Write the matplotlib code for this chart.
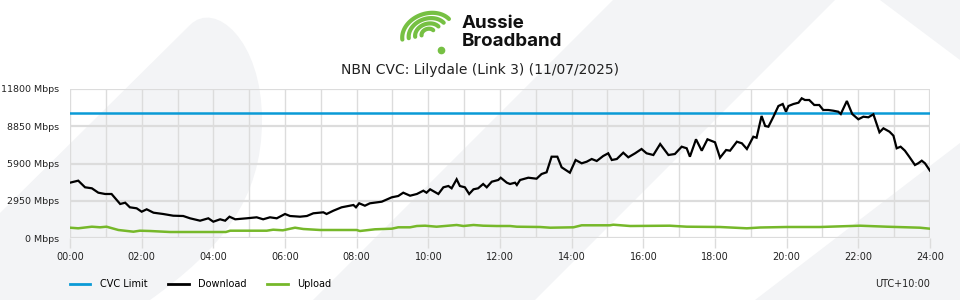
import numpy as np
import matplotlib
matplotlib.use("Agg")
import matplotlib.pyplot as plt
from matplotlib.path import Path
from matplotlib.patches import PathPatch, Polygon
from matplotlib.lines import Line2D

# ---------------- data ----------------
title = "NBN CVC: Lilydale (Link 3) (11/07/2025)"
cvc_limit = 9900
y_ticks = [0, 2950, 5900, 8850, 11800]
x_tick_labels = ["00:00", "02:00", "04:00", "06:00", "08:00", "10:00", "12:00",
                 "14:00", "16:00", "18:00", "20:00", "22:00", "24:00"]

download_t = [0.0, 0.23, 0.42, 0.61, 0.79, 0.98, 1.16, 1.40, 1.54, 1.67, 1.86, 2.0, 2.14, 2.33,
              2.60, 2.88, 3.16, 3.35, 3.63, 3.86, 4.0, 4.19, 4.33, 4.45, 4.61, 4.93, 5.21, 5.39,
              5.58, 5.77, 6.0, 6.14, 6.42, 6.61, 6.79, 7.07, 7.16, 7.35, 7.58, 7.91, 7.98, 8.07,
              8.23, 8.37, 8.70, 8.98, 9.16, 9.30, 9.49, 9.68, 9.86, 9.95, 10.05, 10.28, 10.42,
              10.56, 10.65, 10.79, 10.88, 11.02, 11.14, 11.26, 11.39, 11.53, 11.63, 11.77, 11.95,
              12.02, 12.19, 12.28, 12.42, 12.47, 12.56, 12.79, 13.02, 13.16, 13.30, 13.44, 13.60,
              13.72, 13.95, 14.11, 14.28, 14.42, 14.56, 14.70, 14.88, 15.02, 15.12, 15.26, 15.44,
              15.58, 15.77, 15.95, 16.09, 16.28, 16.47, 16.70, 16.88, 17.07, 17.21, 17.30, 17.47,
              17.63, 17.79, 18.0, 18.14, 18.31, 18.42, 18.61, 18.75, 18.89, 19.07, 19.16, 19.30,
              19.40, 19.49, 19.63, 19.77, 19.89, 19.98, 20.05, 20.19, 20.33, 20.42, 20.51, 20.63,
              20.77, 20.91, 21.02, 21.16, 21.30, 21.44, 21.51, 21.68, 21.83, 22.0, 22.14, 22.28,
              22.42, 22.59, 22.70, 22.87, 22.98, 23.07, 23.18, 23.30, 23.42, 23.58, 23.67, 23.77,
              23.86, 24.0]
download_mbps = [4380, 4540, 4015, 3936, 3588, 3485, 3485, 2693, 2796, 2431, 2352, 2083, 2273, 2004,
                 1901, 1766, 1742, 1560, 1370, 1560, 1291, 1481, 1370, 1687, 1481, 1560, 1639, 1481,
                 1639, 1560, 1901, 1742, 1687, 1742, 1956, 2035, 1901, 2162, 2431, 2613, 2431, 2748,
                 2558, 2748, 2875, 3223, 3326, 3588, 3350, 3485, 3746, 3588, 3857, 3485, 4015,
                 4118, 3936, 4649, 4118, 4015, 3485, 3857, 3936, 4277, 4015, 4459, 4593,
                 4775, 4380, 4277, 4380, 4197, 4593, 4775, 4696, 5068, 5203, 6439, 6439,
                 5599, 5171, 6177, 5916, 6043, 6256, 6098, 6494, 6708, 6177, 6256, 6755,
                 6391, 6708, 7048, 6708, 6573, 7444, 6573, 6652, 7231, 7104, 6439, 7817,
                 6914, 7817, 7579, 6359, 6969, 6914, 7626, 7500, 7048, 8022, 7943, 9662,
                 8870, 8814, 9606, 10454, 10612, 10002, 10454, 10612, 10715, 11064, 10929, 10929,
                 10533, 10533, 10137, 10137, 10082, 10002, 9820, 10850, 9820, 9400, 9606, 9559,
                 9796, 8371, 8688, 8418, 8102, 7104, 7231, 6914, 6439, 5781, 5916, 6122,
                 5916, 5330]

upload_t = [0.0, 0.23, 0.61, 0.84, 1.02, 1.35, 1.77, 1.95, 2.23, 2.79, 3.43, 4.0, 4.35, 4.47,
            5.49, 5.67, 5.94, 6.28, 6.51, 6.98, 8.0, 8.09, 8.51, 8.98, 9.16, 9.49, 9.68, 9.91,
            10.23, 10.79, 10.98, 11.26, 11.53, 11.91, 12.28, 12.47, 13.12, 13.40, 14.05, 14.28,
            15.07, 15.16, 15.63, 16.74, 17.21, 18.14, 18.89, 19.26, 20.0, 20.93, 22.05, 22.79,
            23.72, 24.0]
upload_mbps = [816, 768, 895, 847, 895, 634, 499, 578, 554, 475, 475, 475, 475, 578,
               578, 657, 610, 816, 713, 634, 634, 554, 689, 737, 847, 847, 950, 974,
               895, 1030, 950, 1030, 974, 950, 950, 895, 871, 816, 847, 1006,
               1006, 1053, 950, 974, 895, 871, 768, 832, 871, 871, 974, 895,
               816, 737]

# ---------------- figure ----------------
W, H = 960, 300
fig = plt.figure(figsize=(9.6, 3.0), dpi=100)
fig.patch.set_facecolor("white")

def fx(x):
    return x / W

def fy(y):
    return 1 - y / H

# watermark shapes (figure coords)
wm = "#f3f4f6"
leaf_verts = [(0, 300), (0, 213), (190, 25),
              (215, 0), (262, 40), (262, 120),
              (262, 200), (220, 250), (150, 300),
              (0, 300)]
leaf_codes = [Path.MOVETO, Path.LINETO, Path.LINETO,
              Path.CURVE4, Path.CURVE4, Path.CURVE4,
              Path.CURVE4, Path.CURVE4, Path.CURVE4,
              Path.CLOSEPOLY]
leaf = Path([(fx(x), fy(y)) for x, y in leaf_verts], leaf_codes)
fig.patches.append(PathPatch(leaf, transform=fig.transFigure, facecolor=wm,
                             edgecolor="none", zorder=0))
bands = [
    [(313, 300), (613, 0), (835, 0), (535, 300)],
    [(755, 300), (960, 143), (960, 300)],
    [(880, 0), (960, 0), (960, 60)],
]
for b in bands:
    fig.patches.append(Polygon([(fx(x), fy(y)) for x, y in b], closed=True,
                               transform=fig.transFigure, facecolor=wm,
                               edgecolor="none", zorder=0))

# main axes
ax = fig.add_axes([fx(70), fy(238), fx(860), 149 / H])
ax.patch.set_visible(False)
ax.set_zorder(2)

grid_c = "#dcdcdc"
ax.set_xlim(0, 24)
ax.set_ylim(0, 11800)
ax.set_yticks(y_ticks)
ax.set_yticklabels([f"{v} Mbps" for v in y_ticks])
ax.set_xticks(np.arange(0, 25, 2))
ax.set_xticklabels(x_tick_labels)
ax.set_xticks(np.arange(0, 25, 1), minor=True)
ax.grid(True, which="major", axis="y", color=grid_c, linewidth=1.6, zorder=1)
ax.grid(True, which="both", axis="x", color=grid_c, linewidth=1.0, zorder=1)
for s in ax.spines.values():
    s.set_visible(False)
ax.axvline(24, color=grid_c, linewidth=1.6, zorder=1)
ax.tick_params(axis="y", length=0, pad=8, labelsize=6.8, labelcolor="#222222")
ax.tick_params(axis="x", which="major", length=7, width=1.0, color=grid_c,
               pad=3, labelsize=7, labelcolor="#222222")
ax.tick_params(axis="x", which="minor", length=0)

ax.axhline(cvc_limit, color="#0a9ad6", linewidth=1.8, zorder=4)
ax.plot(download_t, download_mbps, color="black", linewidth=1.6, zorder=5,
        solid_joinstyle="miter")
ax.plot(upload_t, upload_mbps, color="#76b82a", linewidth=1.8, zorder=4)

# title
fig.text(0.5, fy(70), title, ha="center", va="center", fontsize=10, color="#222222")

# logo text
fig.text(fx(462), fy(24), "Aussie", ha="left", va="center", fontsize=13.5,
         fontweight="bold", family="Inter", color="#111111")
fig.text(fx(462), fy(41), "Broadband", ha="left", va="center", fontsize=13.5,
         fontweight="bold", family="Inter", color="#111111")

# logo icon (decorative tilted concentric strokes)
lax = fig.add_axes([fx(396), fy(56), fx(62), 54 / H])
lax.set_xlim(396, 458)
lax.set_ylim(56, 2)
lax.axis("off")
green = "#76c043"
cx, cy = 428, 34
tilt = np.radians(-20)
for r in [6, 12, 18, 24]:
    ang = np.radians(np.linspace(190, 340, 60))
    ex = r * np.cos(ang) * 1.1
    ey = r * np.sin(ang) * 0.85
    xs = cx + ex * np.cos(tilt) - ey * np.sin(tilt)
    ys = cy + ex * np.sin(tilt) + ey * np.cos(tilt)
    lax.plot(xs, ys, color=green, linewidth=3.0, solid_capstyle="round")
lax.plot([441], [50], "o", color=green, markersize=4.5)

# legend
handles = [Line2D([], [], color="#0a9ad6", linewidth=2),
           Line2D([], [], color="black", linewidth=2),
           Line2D([], [], color="#76b82a", linewidth=2)]
fig.legend(handles, ["CVC Limit", "Download", "Upload"], loc="center left",
           bbox_to_anchor=(fx(70), fy(284)), ncol=3, frameon=False, fontsize=7,
           handlelength=2.1, handletextpad=1.0, columnspacing=2.1,
           borderaxespad=0, borderpad=0)
fig.text(fx(930), fy(284), "UTC+10:00", ha="right", va="center", fontsize=7,
         color="#222222")

fig.savefig("out.png", dpi=100, facecolor="white")
